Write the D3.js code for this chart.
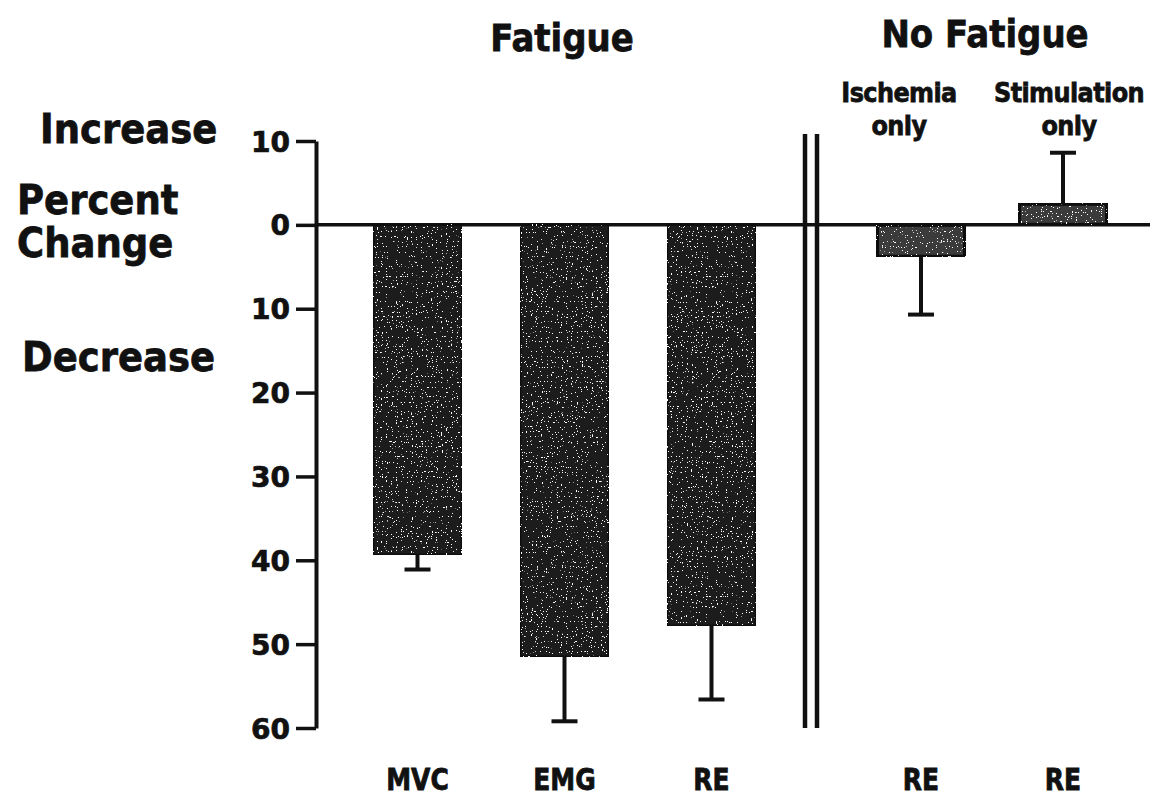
<!DOCTYPE html>
<html>
<head>
<meta charset="utf-8">
<script src="https://cdn.jsdelivr.net/npm/d3@7"></script>
<style>
  html, body { margin: 0; padding: 0; background: #fff; }
  svg { display: block; }
  text { font-family: "DejaVu Sans", sans-serif; font-weight: bold; fill: #111; stroke: #111; stroke-width: 0.7px; }
</style>
</head>
<body>
<svg id="chart" width="1168" height="803"></svg>
<script>
// Fatigue conditions (percent change, negative = decrease)
const fatigueCats = ["MVC", "EMG", "RE"];
const fatigueValues = [-39.3, -51.5, -47.8];
const fatigueErrEnds = [-41.1, -59.2, -56.6];

// No-fatigue conditions
const noFatigueCats = ["RE (ischemia)", "RE (stimulation)"];
const noFatigueLabels = ["RE", "RE"];
const noFatigueHeads = [["Ischemia", "only"], ["Stimulation", "only"]];
const noFatigueValues = [-3.8, 2.5];
const noFatigueErrEnds = [-10.7, 8.6];

// Axis ticks (drawn as magnitudes)
const tickValues = [10, 0, -10, -20, -30, -40, -50, -60];

const svg = d3.select("#chart");

const axisX = 316;
const y = d3.scaleLinear().domain([10, -60]).range([141, 728]);

const xFat = d3.scaleBand().domain(fatigueCats).range([344, 785])
  .paddingInner(0.4).paddingOuter(0.2);
const xNo = d3.scaleBand().domain(noFatigueCats).range([850, 1134])
  .paddingInner(0.38).paddingOuter(0.19);

const breakX = 811;

// sparse light specks over the dark fills
const defs = svg.append("defs");
const grain = defs.append("filter").attr("id", "grain")
  .attr("x", 0).attr("y", 0).attr("width", 1).attr("height", 1);
grain.append("feTurbulence").attr("type", "fractalNoise")
  .attr("baseFrequency", 0.8).attr("numOctaves", 1).attr("seed", 7).attr("result", "n");
grain.append("feColorMatrix").attr("in", "n").attr("type", "matrix")
  .attr("values", "0 0 0 0 1  0 0 0 0 1  0 0 0 0 1  0 0 0 -40 13").attr("result", "specks");
grain.append("feComposite").attr("in", "specks").attr("in2", "SourceGraphic")
  .attr("operator", "in").attr("result", "sp");
grain.append("feMerge").selectAll("feMergeNode")
  .data(["SourceGraphic", "sp"]).join("feMergeNode").attr("in", d => d);

// zero line
svg.append("line")
  .attr("x1", axisX).attr("x2", 1150)
  .attr("y1", y(0)).attr("y2", y(0))
  .attr("stroke", "#111").attr("stroke-width", 3.5);

// y axis
const axis = d3.axisLeft(y)
  .tickValues(tickValues)
  .tickFormat(d => Math.abs(d))
  .tickSizeInner(20)
  .tickSizeOuter(0)
  .tickPadding(6);

const gAxis = svg.append("g")
  .attr("transform", `translate(${axisX},0)`)
  .call(axis);
gAxis.select(".domain").attr("stroke", "#111").attr("stroke-width", 4);
gAxis.selectAll(".tick line").attr("stroke", "#111").attr("stroke-width", 3.5);
gAxis.selectAll(".tick text")
  .attr("font-size", 28)
  .attr("font-family", "DejaVu Sans, sans-serif")
  .attr("font-weight", "bold")
  .attr("fill", "#111")
  .attr("dy", "0.36em");

// axis break
[-6, 6].forEach(o => {
  svg.append("line")
    .attr("x1", breakX + o).attr("x2", breakX + o)
    .attr("y1", 134).attr("y2", y(-60))
    .attr("stroke", "#111").attr("stroke-width", 4.5);
});

function drawGroup(cats, vals, errs, x, opts) {
  const g = svg.append("g");
  g.selectAll("rect.bar").data(cats).join("rect")
    .attr("class", "bar")
    .attr("x", d => x(d))
    .attr("width", x.bandwidth())
    .attr("y", (d, i) => y(Math.max(0, vals[i])))
    .attr("height", (d, i) => Math.abs(y(vals[i]) - y(0)))
    .attr("fill", opts.fill)
    .attr("stroke", "#111")
    .attr("stroke-width", opts.sw)
    .attr("filter", "url(#grain)");
  g.selectAll("line.err").data(cats).join("line")
    .attr("class", "err")
    .attr("x1", d => x(d) + x.bandwidth() / 2)
    .attr("x2", d => x(d) + x.bandwidth() / 2)
    .attr("y1", (d, i) => y(vals[i]))
    .attr("y2", (d, i) => y(errs[i]))
    .attr("stroke", "#111").attr("stroke-width", 4);
  g.selectAll("line.cap").data(cats).join("line")
    .attr("class", "cap")
    .attr("x1", d => x(d) + x.bandwidth() / 2 - 13)
    .attr("x2", d => x(d) + x.bandwidth() / 2 + 13)
    .attr("y1", (d, i) => y(errs[i]))
    .attr("y2", (d, i) => y(errs[i]))
    .attr("stroke", "#111").attr("stroke-width", 4);
}

drawGroup(fatigueCats, fatigueValues, fatigueErrEnds, xFat, { fill: "#1a1a1a", sw: 2 });
drawGroup(noFatigueCats, noFatigueValues, noFatigueErrEnds, xNo, { fill: "#3a3a3a", sw: 4 });

// text drawn slightly stretched vertically, like a condensed heavy face
function tallText(x, yBase, size, str, stretch) {
  return svg.append("text")
    .attr("transform", `translate(${x},${yBase}) scale(1,${stretch})`)
    .attr("text-anchor", "middle")
    .attr("font-size", size)
    .text(str);
}

// category labels under the bars
fatigueCats.forEach(c => tallText(xFat(c) + xFat.bandwidth() / 2, 790, 25, c, 1.2));
noFatigueCats.forEach((c, i) => tallText(xNo(c) + xNo.bandwidth() / 2, 790, 25, noFatigueLabels[i], 1.2));

// condition headings above the no-fatigue bars
noFatigueCats.forEach((c, i) => {
  const cx = xNo(c) + xNo.bandwidth() / 2 + (i === 0 ? -22 : 6);
  noFatigueHeads[i].forEach((t, j) => {
    tallText(cx, 102 + j * 33, 24, t, 1.1).attr("letter-spacing", -0.6);
  });
});

// group titles
tallText(562, 51, 34, "Fatigue", 1.12);
tallText(985, 47, 34, "No Fatigue", 1.12);

// y-axis annotations
const leftLabels = [
  { t: "Increase", x: 40, y: 143 },
  { t: "Percent", x: 17, y: 214 },
  { t: "Change", x: 17, y: 257 },
  { t: "Decrease", x: 22, y: 371 }
];
leftLabels.forEach(d => {
  svg.append("text")
    .attr("transform", `translate(${d.x},${d.y}) scale(1,1.08)`)
    .attr("font-size", 37)
    .text(d.t);
});
</script>
</body>
</html>
